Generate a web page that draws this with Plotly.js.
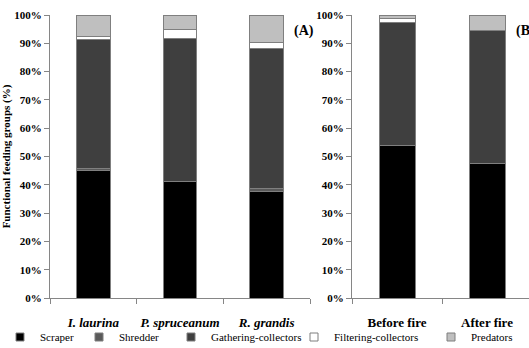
<!DOCTYPE html>
<html>
<head>
<meta charset="utf-8">
<script src="https://cdn.plot.ly/plotly-3.0.1.min.js"></script>
<style>html,body{margin:0;padding:0;background:#fff;}#chart{width:529px;height:348px;}</style>
</head>
<body>
<div id="chart"></div>
<script>
// Categories
const speciesCats = ['I. laurina', 'P. spruceanum', 'R. grandis'];
const fireCats = ['Before fire', 'After fire'];
const groupNames = ['Scraper', 'Shredder', 'Gathering-collectors', 'Filtering-collectors', 'Predators'];

// Panel (A) values, % per species
const scraperA    = [45.0, 41.0, 37.8];
const shredderA   = [0.8, 0.0, 1.0];
const gatheringA  = [45.6, 50.8, 49.3];
const filteringA  = [0.9, 3.1, 2.2];
const predatorsA  = [7.7, 5.1, 9.7];

// Panel (B) values, % before/after fire
const scraperB    = [54.0, 47.5];
const shredderB   = [0.0, 0.0];
const gatheringB  = [43.3, 47.2];
const filteringB  = [1.5, 0.0];
const predatorsB  = [1.2, 5.3];

// Y ticks
const yTickVals = [0, 10, 20, 30, 40, 50, 60, 70, 80, 90, 100];
const yTickText = ['0%', '10%', '20%', '30%', '40%', '50%', '60%', '70%', '80%', '90%', '100%'];

const colors = ['#000000', '#5a5a5a', '#3f3f3f', '#ffffff', '#bfbfbf'];
const edge = '#7f7f7f';
const serif = 'Liberation Serif';

const seriesA = [scraperA, shredderA, gatheringA, filteringA, predatorsA];
const seriesB = [scraperB, shredderB, gatheringB, filteringB, predatorsB];

const legendTextX = [26, 118, 210, 333, 470];

const traces = [];
groupNames.forEach((name, i) => {
  traces.push({
    type: 'bar', name: name, x: speciesCats, y: seriesA[i],
    xaxis: 'x', yaxis: 'y', width: 0.39,
    marker: {color: colors[i], line: {color: edge, width: 1}},
    showlegend: false, legendgroup: name, hoverinfo: 'skip'
  });
  traces.push({
    type: 'bar', name: name, x: fireCats, y: seriesB[i],
    xaxis: 'x2', yaxis: 'y2', width: 0.4,
    marker: {color: colors[i], line: {color: edge, width: 1}},
    showlegend: false, legendgroup: name, hoverinfo: 'skip'
  });
  // legend entry only (no data points)
  traces.push({
    type: 'scatter', mode: 'markers', name: name, x: [null], y: [null],
    xaxis: 'x', yaxis: 'y',
    marker: {symbol: 'square', size: 8, color: colors[i], line: {color: edge, width: 1}},
    legendgroup: name, legend: i === 0 ? 'legend' : 'legend' + (i + 1),
    showlegend: true, hoverinfo: 'skip'
  });
});

function yAxis(anchor, withTitle) {
  const ax = {
    anchor: anchor, type: 'linear',
    range: [0, 100], tickmode: 'array', tickvals: yTickVals, ticktext: yTickText,
    showgrid: false, zeroline: false,
    showline: true, linecolor: '#868686', linewidth: 1,
    ticks: 'outside', ticklen: 5, tickcolor: '#868686',
    tickfont: {family: serif, size: 11, color: '#000000', weight: 'bold'},
    fixedrange: true
  };
  if (withTitle) {
    ax.title = {text: 'Functional feeding groups (%)', standoff: 8,
                font: {family: serif, size: 11, color: '#000000', weight: 'bold'}};
  }
  return ax;
}
function xAxis(anchor, domain, range, italic) {
  return {
    anchor: anchor, type: 'category', domain: domain, range: range,
    showgrid: false, zeroline: false,
    showline: true, linecolor: '#868686', linewidth: 1,
    ticks: 'outside', ticklen: 5, tickcolor: '#868686', tickson: 'boundaries',
    tickangle: 0, ticklabelstandoff: 12, fixedrange: true,
    tickfont: {family: serif, size: 13, color: '#000000', weight: 'bold', style: italic ? 'italic' : 'normal'}
  };
}

function legendAt(i) {
  return {
    orientation: 'h', xref: 'container', yref: 'container',
    x: Math.max(0, (legendTextX[i] + 6 - 45) / 529), xanchor: 'left',
    y: 11 / 348, yanchor: 'middle',
    font: {family: serif, size: 11, color: '#000000'},
    bgcolor: 'rgba(0,0,0,0)', borderwidth: 0, itemwidth: 30
  };
}

const layout = {
  width: 529, height: 348,
  margin: {l: 0, r: 0, t: 15, b: 50},
  font: {family: serif, size: 11, color: '#000000'},
  paper_bgcolor: '#ffffff', plot_bgcolor: '#ffffff',
  barmode: 'stack',
  showlegend: true,
  legend: legendAt(0), legend2: legendAt(1), legend3: legendAt(2), legend4: legendAt(3), legend5: legendAt(4),
  xaxis: xAxis('y', [50 / 529, 310 / 529], [-0.5, 2.5], true),
  yaxis: yAxis('x', true),
  xaxis2: xAxis('y2', [352 / 529, 1], [-0.5, -0.5 + 177 / 90], false),
  yaxis2: yAxis('x2', false),
  annotations: [
    {text: '(A)', xref: 'paper', yref: 'paper', x: 292 / 529, y: (298 - 31) / 283, xanchor: 'left', yanchor: 'middle',
     showarrow: false, font: {family: serif, size: 14, color: '#000000', weight: 'bold'}},
    {text: '(B)', xref: 'paper', yref: 'paper', x: 514 / 529, y: (298 - 31) / 283, xanchor: 'left', yanchor: 'middle',
     showarrow: false, font: {family: serif, size: 14, color: '#000000', weight: 'bold'}}
  ]
};

Plotly.newPlot('chart', traces, layout, {staticPlot: true, displayModeBar: false});
</script>
</body>
</html>
